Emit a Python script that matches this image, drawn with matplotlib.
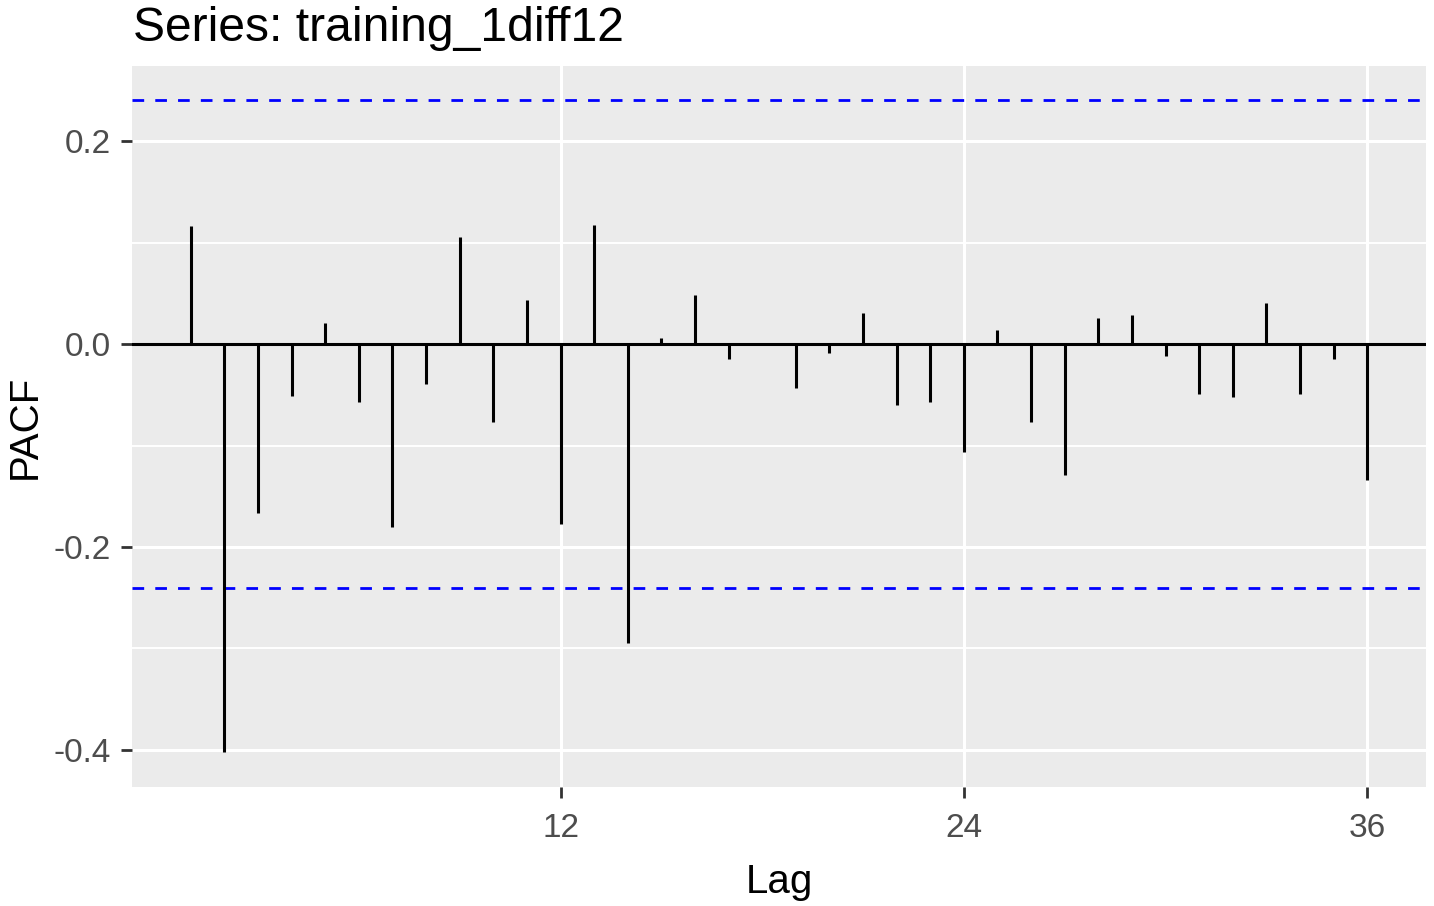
import matplotlib
matplotlib.use("Agg")
import matplotlib.pyplot as plt
import numpy as np

title = "Series: training_1diff12"
lags = list(range(1, 37))
pacf = [0.116, -0.402, -0.166, -0.051, 0.021, -0.057, -0.180, -0.039, 0.105,
        -0.077, 0.043, -0.177, 0.117, -0.295, 0.006, 0.048, -0.015, 0.000,
        -0.043, -0.009, 0.031, -0.060, -0.057, -0.106, 0.014, -0.077, -0.129,
        0.026, 0.029, -0.012, -0.049, -0.052, 0.040, -0.049, -0.015, -0.134]
ci = 0.2404
x_ticks = [12, 24, 36]
y_ticks = [-0.4, -0.2, 0.0, 0.2]
y_tick_labels = ['-0.4', '-0.2', '0.0', '0.2']
y_minor = [-0.3, -0.1, 0.1]

plt.rcParams['font.family'] = ['Liberation Sans', 'DejaVu Sans']

W, H = 1434, 906
fig = plt.figure(figsize=(W / 100, H / 100), dpi=100)
L, R, T, B = 132, 1426, 66, 787
ax = fig.add_axes([L / W, (H - B) / H, (R - L) / W, (B - T) / H])
ax.set_facecolor('#EBEBEB')
for s in ax.spines.values():
    s.set_visible(False)

ax.set_xlim(-0.75, 37.75)
ax.set_ylim(-0.4365, 0.274)

# grid
for y in y_minor:
    ax.axhline(y, color='white', lw=1.4, zorder=0.5)
for y in y_ticks:
    ax.axhline(y, color='white', lw=2.2, zorder=0.6)
for x in x_ticks:
    ax.axvline(x, color='white', lw=2.2, zorder=0.6)

ax.axhline(0, color='black', lw=2.2, zorder=2)
ax.vlines(lags, 0, pacf, color='black', lw=2.2, zorder=3, capstyle='butt')
for c in (ci, -ci):
    ax.axhline(c, color='#0000FF', lw=2.0, ls=(0, (4.2, 4.0)), zorder=2)

ax.set_xticks(x_ticks)
ax.set_xticklabels([str(v) for v in x_ticks])
ax.set_yticks(y_ticks)
ax.set_yticklabels(y_tick_labels)
ax.tick_params(axis='both', length=8, width=2.0, color='#333333',
               labelcolor='#4D4D4D', labelsize=24)
ax.tick_params(axis='y', pad=7)
ax.tick_params(axis='x', pad=10.5)

fig.text((L + R) / 2 / W, (H - 893) / H, 'Lag', fontsize=29, color='black',
         ha='center', va='baseline')
fig.text(36 / W, (H - (T + B) / 2) / H, 'PACF', fontsize=29, color='black',
         rotation=90, rotation_mode='anchor', ha='center', va='baseline')

fig.text(133 / W, (H - 41) / H, title, fontsize=34.6, color='black',
         ha='left', va='baseline')

fig.savefig('out.png', dpi=100, facecolor='white')
